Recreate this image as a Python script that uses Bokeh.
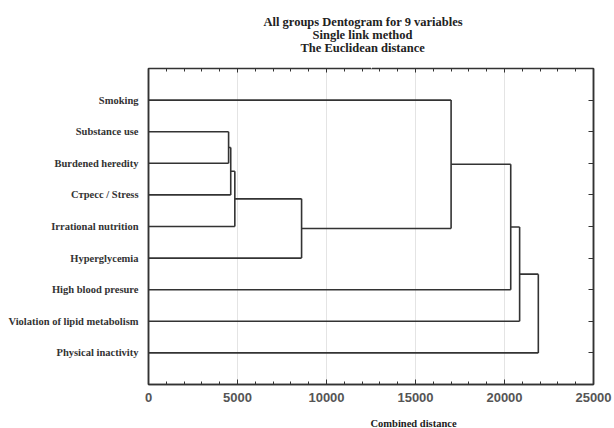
from bokeh.plotting import figure
from bokeh.models import (Range1d, FixedTicker, LinearAxis, Title, ColumnDataSource,
                          CustomJSTickFormatter)
from bokeh.embed import file_html
from bokeh.resources import INLINE

# ---- data ----
variables = ["Smoking", "Substance use", "Burdened heredity", "Стресс / Stress",
             "Irrational nutrition", "Hyperglycemia", "High blood presure",
             "Violation of lipid metabolism", "Physical inactivity"]
# merge steps: ids < 9 are variables, id 9+k is the cluster formed at step k
merge_left = [1, 9, 10, 11, 0, 13, 14, 15]
merge_right = [2, 3, 4, 5, 12, 6, 7, 8]
merge_dist = [4500, 4620, 4850, 8600, 17000, 20350, 20850, 21900]
x_ticks = [0, 5000, 10000, 15000, 20000, 25000]
x_minor = list(range(0, 25001, 1000))
title_lines = ["All groups Dentogram for 9 variables", "Single link method",
               "The Euclidean distance"]
x_title = "Combined distance"

# ---- dendrogram geometry from the merge table ----
n = len(variables)
pos = [i + 1 for i in range(n)]
hgt = [0.0] * n
xs, ys = [], []
for l, r, d in zip(merge_left, merge_right, merge_dist):
    for c in (l, r):
        xs.append([hgt[c], d]); ys.append([pos[c], pos[c]])
    xs.append([d, d]); ys.append([pos[l], pos[r]])
    pos.append((pos[l] + pos[r]) / 2.0)
    hgt.append(d)

W, H = 614, 428
p = figure(width=W, height=H, output_backend="svg", toolbar_location=None,
           x_range=Range1d(0, 25000), y_range=Range1d(10, 0),
           x_axis_location="below", y_axis_location="left",
           min_border_left=148, min_border_right=21, min_border_top=68,
           min_border_bottom=44)
p.title = None
p.background_fill_color = "white"
p.border_fill_color = "white"
p.outline_line_color = "#333333"
p.outline_line_width = 1.5

p.ygrid.visible = False
p.xgrid.ticker = FixedTicker(ticks=x_ticks)
p.xgrid.grid_line_color = "#e4e4e4"

src = ColumnDataSource(dict(xs=xs, ys=ys))
p.multi_line(xs="xs", ys="ys", source=src, line_color="#333333", line_width=1.6)

blank = CustomJSTickFormatter(code="return ''")

# bottom axis
xa = p.xaxis[0]
xa.ticker = FixedTicker(ticks=x_ticks, minor_ticks=x_minor)
xa.major_tick_in = 5; xa.major_tick_out = 0
xa.minor_tick_in = 3; xa.minor_tick_out = 0
xa.axis_line_color = "#333333"; xa.axis_line_width = 1.5
xa.major_tick_line_color = "#333333"; xa.minor_tick_line_color = "#333333"
xa.major_label_text_font = "Liberation Sans"
xa.major_label_text_font_style = "bold"
xa.major_label_text_font_size = "13px"
xa.major_label_text_color = "#555555"
xa.major_label_standoff = 8

# left axis
ya = p.yaxis[0]
ya.ticker = FixedTicker(ticks=list(range(1, n + 1)))
ya.major_label_overrides = {i + 1: v for i, v in enumerate(variables)}
ya.major_tick_in = 0; ya.major_tick_out = 0
ya.minor_tick_line_color = None
ya.axis_line_color = "#333333"; ya.axis_line_width = 1.5
ya.major_label_text_font = "Liberation Serif"
ya.major_label_text_font_style = "bold"
ya.major_label_text_font_size = "10.5px"
ya.major_label_text_color = "#333333"
ya.major_label_standoff = 10

# top axis (ticks only)
ta = LinearAxis(ticker=FixedTicker(ticks=x_ticks, minor_ticks=x_minor), formatter=blank,
                major_tick_in=4, major_tick_out=0, minor_tick_in=3, minor_tick_out=0,
                major_label_standoff=0, axis_line_color="#333333",
                major_tick_line_color="#333333", minor_tick_line_color="#333333")
p.add_layout(ta, "above")

# right axis (ticks only)
ra = LinearAxis(ticker=FixedTicker(ticks=list(range(1, n + 1))), formatter=blank,
                major_tick_in=5, major_tick_out=0, minor_tick_line_color=None,
                major_label_standoff=0, axis_line_color="#333333",
                axis_line_width=1.5, major_tick_line_color="#333333")
p.add_layout(ra, "right")


def spacer(gap):
    # an invisible (white) axis that only reserves `gap` pixels of room
    return LinearAxis(ticker=FixedTicker(ticks=[12500]), formatter=blank,
                      major_tick_in=0, major_tick_out=gap, minor_tick_in=0,
                      minor_tick_out=0, major_label_standoff=0, axis_line_color=None,
                      major_tick_line_color="white", minor_tick_line_color=None)


p.add_layout(spacer(15), "above")

# chart title, one Title per line (nearest the frame first)
title_offsets = [115, 164, 152]
for line, off in reversed(list(zip(title_lines, title_offsets))):
    p.add_layout(Title(text=line, align="left", offset=off, text_font="Liberation Serif",
                       text_font_style="bold", text_font_size="12.5px",
                       text_color="#222222", standoff=-3), "above")

# x axis title
p.add_layout(spacer(11), "below")
p.add_layout(Title(text=x_title, align="left", offset=222, text_font="Liberation Serif",
                   text_font_style="bold", text_font_size="10.5px", text_color="#222222",
                   standoff=0), "below")

open("out.html", "w").write(file_html(p, INLINE))
